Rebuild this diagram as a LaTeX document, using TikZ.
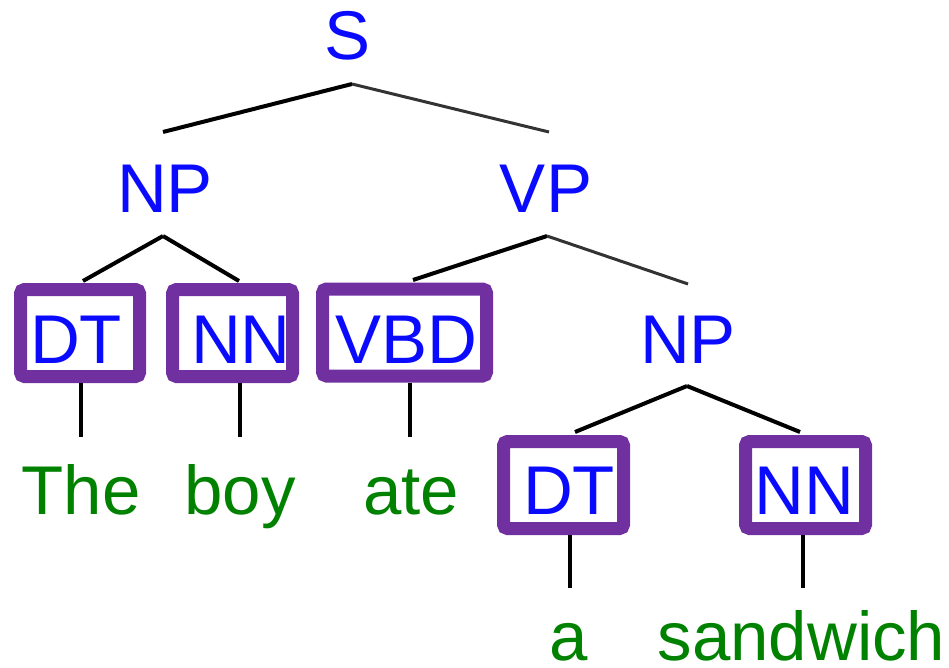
\documentclass[tikz,border=0pt]{standalone}
\usepackage{fontspec}
\setmainfont{Liberation Sans}
\definecolor{catblue}{RGB}{10,10,255}
\definecolor{wordgreen}{RGB}{0,130,0}
\definecolor{boxpurple}{RGB}{112,48,160}
\begin{document}
\begin{tikzpicture}[x=1pt,y=-1pt,
  cat/.style={anchor=base,inner sep=0pt,text=catblue,font=\fontsize{69}{80}\selectfont},
  word/.style={anchor=base,inner sep=0pt,text=wordgreen,font=\fontsize{69}{80}\selectfont},
  tagbox/.style={draw=boxpurple,line width=13pt,rounded corners=4pt,fill=white,inner sep=0pt,minimum height=87pt},
  edge/.style={line width=4pt,black},
  thinedge/.style={line width=3pt,black!80}]
\useasboundingbox (0,0) rectangle (949,668);
% boxes
\node[tagbox,minimum width=119pt] (b-dt1) at (80,333) {};
\node[tagbox,minimum width=120pt] (b-nn1) at (232.5,333) {};
\node[tagbox,minimum width=164pt] (b-vbd) at (404.5,332.5) {};
\node[tagbox,minimum width=120pt] (b-dt2) at (563.5,485) {};
\node[tagbox,minimum width=120pt] (b-nn2) at (805.5,485) {};
% category labels
\node[cat] (s) at (348,60) {S};
\node[cat] (np1) at (165,212) {NP};
\node[cat] (vp) at (546,212) {VP};
\node[cat] (dt1) at (76,363) {DT};
\node[cat] (nn1) at (241,363) {NN};
\node[cat] (vbd) at (406,363) {VBD};
\node[cat] (np2) at (688,363) {NP};
\node[cat] (dt2) at (569,514) {DT};
\node[cat] (nn2) at (804,514) {NN};
% words
\node[word] (w-the) at (81,514) {The};
\node[word] (w-boy) at (240,514) {boy};
\node[word] (w-ate) at (411,514) {ate};
\node[word,text depth=0pt] (w-a) at (569,660) {a};
\node[word,text depth=0pt] (w-sand) at (801.5,660) {sandwich};
% connector points
\coordinate (s-ap) at (352,84);
\coordinate (np1-top) at (163,132);
\coordinate (vp-top) at (549,132);
\coordinate (np1-ap) at (163,236);
\coordinate (vp-ap) at (547,236);
\coordinate (np2-top) at (688,284);
\coordinate (np2-ap) at (687,386);
\coordinate (dt1-top) at (83,281);
\coordinate (nn1-top) at (239,281);
\coordinate (vbd-top) at (413,280);
\coordinate (dt2-top) at (575,432);
\coordinate (nn2-top) at (800,432);
\coordinate (the-top) at (81,437);
\coordinate (boy-top) at (240,437);
\coordinate (ate-top) at (410,437);
\coordinate (a-top) at (570,588);
\coordinate (sand-top) at (803,588);
% tree edges
\draw[edge] (s-ap) -- (np1-top);
\draw[thinedge] (s-ap) -- (vp-top);
\draw[edge] (np1-ap) -- (dt1-top);
\draw[edge] (np1-ap) -- (nn1-top);
\draw[edge] (vp-ap) -- (vbd-top);
\draw[thinedge] (vp-ap) -- (np2-top);
\draw[edge] (np2-ap) -- (dt2-top);
\draw[edge] (np2-ap) -- (nn2-top);
\draw[edge] (b-dt1.south -| the-top) -- (the-top);
\draw[edge] (b-nn1.south -| boy-top) -- (boy-top);
\draw[edge] (b-vbd.south -| ate-top) -- (ate-top);
\draw[edge] (b-dt2.south -| a-top) -- (a-top);
\draw[edge] (b-nn2.south -| sand-top) -- (sand-top);
\end{tikzpicture}
\end{document}
